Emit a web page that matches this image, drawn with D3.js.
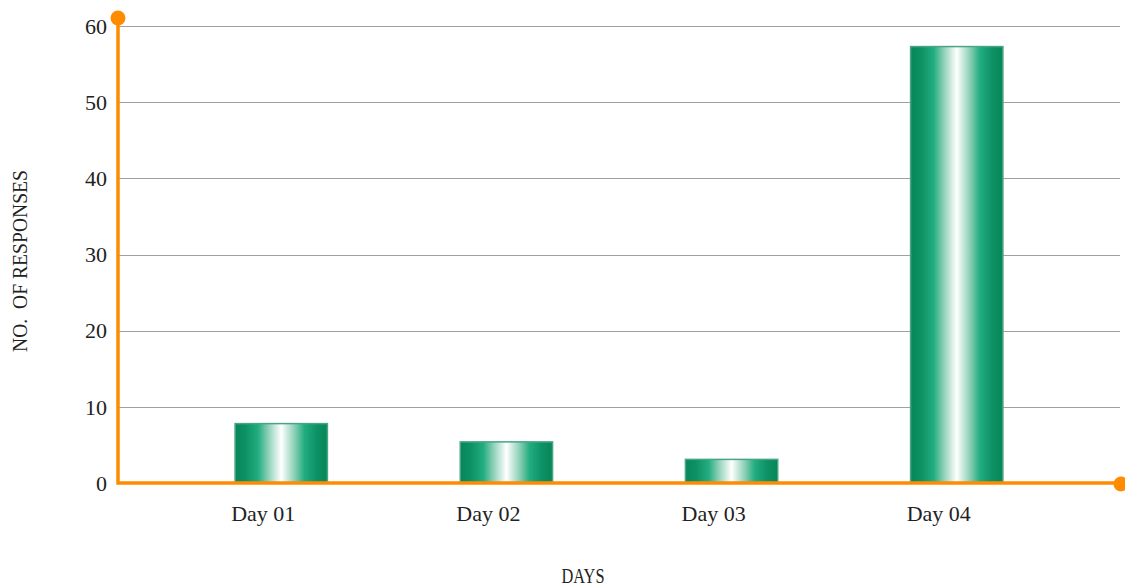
<!DOCTYPE html>
<html lang="en">
<head>
  <meta charset="UTF-8">
  <title>responses</title>
  <style>
    body { margin: 0; background: #fff; }
    .tick-label { font-family: 'Liberation Serif', serif; font-size: 22px; fill: #222; }
    .axis-title { font-family: 'Liberation Serif', serif; font-size: 21px; fill: #222; }
    .grid { stroke: #a0a0a0; stroke-width: 1; }
    .axis-line { stroke: #ff8c00; stroke-width: 3.5; fill: none; }
  </style>
</head>
<body>
  <script src="https://d3js.org/d3.v7.min.js"></script>
  <script>
    var days = ['Day 01', 'Day 02', 'Day 03', 'Day 04'];
    var responses = [7.8, 5.4, 3.1, 57.3];
    var yTicks = [0, 10, 20, 30, 40, 50, 60];

    var width = 1125, height = 587;
    var plotLeft = 118, plotRight = 1120, plotTop = 26, plotBottom = 483;

    var svg = d3.select('body').append('svg')
      .attr('width', width)
      .attr('height', height);

    var defs = svg.append('defs');
    var grad = defs.append('linearGradient')
      .attr('id', 'barGrad')
      .attr('x1', '0%').attr('x2', '100%')
      .attr('y1', '0%').attr('y2', '0%');
    [[0, '#078659'], [0.12, '#0d9265'], [0.25, '#22ad80'], [0.36, '#8fd0b8'],
     [0.5, '#ffffff'], [0.64, '#8fd0b8'], [0.75, '#22ad80'], [0.88, '#0d9265'], [1, '#078659']]
      .forEach(function(s) {
        grad.append('stop').attr('offset', s[0]).attr('stop-color', s[1]);
      });

    var x = d3.scaleBand()
      .domain(days)
      .range([plotLeft, plotRight])
      .paddingInner(0.59)
      .paddingOuter(0.52);

    var y = d3.scaleLinear()
      .domain([0, 60])
      .range([plotBottom, plotTop]);

    // gridlines
    svg.selectAll('.grid')
      .data(yTicks.filter(function(d) { return d > 0; }))
      .enter().append('line')
      .attr('class', 'grid')
      .attr('x1', plotLeft).attr('x2', plotRight)
      .attr('y1', function(d) { return Math.round(y(d)) + 0.5; })
      .attr('y2', function(d) { return Math.round(y(d)) + 0.5; });

    // y tick labels
    svg.selectAll('.ytick')
      .data(yTicks)
      .enter().append('text')
      .attr('class', 'tick-label')
      .attr('x', plotLeft - 11)
      .attr('y', function(d) { return y(d); })
      .attr('dy', '0.35em')
      .attr('text-anchor', 'end')
      .text(function(d) { return d; });

    // bars
    svg.selectAll('.bar')
      .data(responses)
      .enter().append('rect')
      .attr('class', 'bar')
      .attr('x', function(d, i) { return x(days[i]); })
      .attr('width', x.bandwidth())
      .attr('y', function(d) { return y(d); })
      .attr('height', function(d) { return plotBottom - y(d); })
      .attr('fill', 'url(#barGrad)')
      .attr('stroke', '#4aa585')
      .attr('stroke-width', 1.5);

    // x labels (sit a little left of the bar centre, as in the original)
    svg.selectAll('.xtick')
      .data(days)
      .enter().append('text')
      .attr('class', 'tick-label')
      .attr('x', function(d) { return x(d) + x.bandwidth() / 2 - 18; })
      .attr('y', 521)
      .attr('text-anchor', 'middle')
      .text(function(d) { return d; });

    // axes
    svg.append('path')
      .attr('class', 'axis-line')
      .attr('d', 'M' + plotLeft + ',18V' + plotBottom + 'H' + plotRight);
    svg.append('circle').attr('cx', plotLeft).attr('cy', 18).attr('r', 7.5).attr('fill', '#ff8c00');
    svg.append('circle').attr('cx', plotRight + 1).attr('cy', plotBottom + 1).attr('r', 7.5).attr('fill', '#ff8c00');

    // titles
    svg.append('text')
      .attr('class', 'axis-title')
      .attr('transform', 'translate(27,261) rotate(-90)')
      .attr('text-anchor', 'middle')
      .attr('textLength', 182)
      .attr('lengthAdjust', 'spacingAndGlyphs')
      .text('NO.  OF RESPONSES')
      .style('white-space', 'pre');

    svg.append('text')
      .attr('class', 'axis-title')
      .attr('x', 583)
      .attr('y', 583)
      .attr('text-anchor', 'middle')
      .attr('textLength', 43)
      .attr('lengthAdjust', 'spacingAndGlyphs')
      .text('DAYS');
  </script>
</body>
</html>
